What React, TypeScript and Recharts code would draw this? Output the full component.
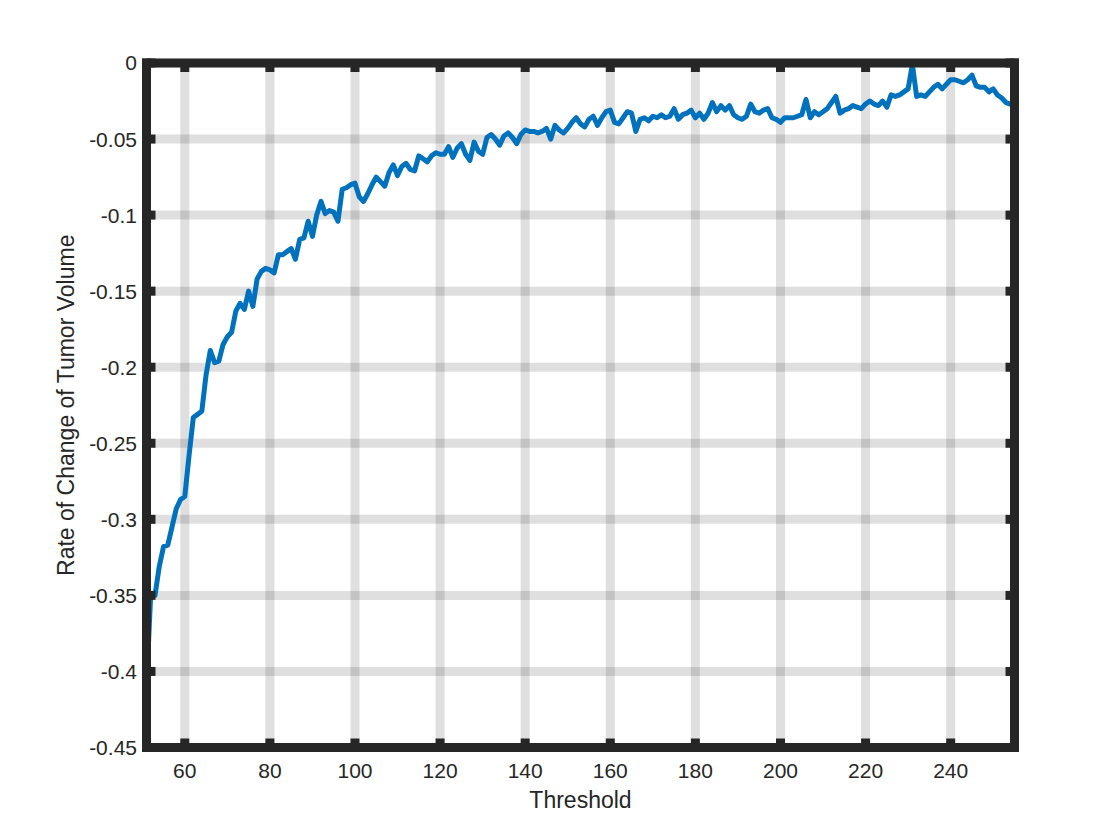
import { LineChart, Line, XAxis, YAxis, CartesianGrid } from 'recharts';

// thresholds run 51..255 in unit steps
const firstThreshold = 51;

const rateOfChange = [
  -0.41, -0.349, -0.35, -0.331, -0.318, -0.317, -0.305, -0.293, -0.287, -0.285,
  -0.258, -0.233, -0.231, -0.229, -0.205, -0.189, -0.197, -0.196, -0.185, -0.18,
  -0.177, -0.163, -0.158, -0.162, -0.15, -0.16, -0.142, -0.137, -0.135, -0.136,
  -0.138, -0.126, -0.126, -0.124, -0.122, -0.129, -0.116, -0.115, -0.104, -0.114,
  -0.1, -0.091, -0.099, -0.097, -0.098, -0.104, -0.083, -0.082, -0.08, -0.079,
  -0.088, -0.091, -0.086, -0.08, -0.075, -0.078, -0.081, -0.072, -0.067, -0.074,
  -0.068, -0.066, -0.07, -0.071, -0.061, -0.063, -0.065, -0.061, -0.059, -0.06,
  -0.06, -0.055, -0.062, -0.056, -0.053, -0.06, -0.064, -0.052, -0.058, -0.06,
  -0.049, -0.047, -0.05, -0.054, -0.048, -0.046, -0.049, -0.053, -0.047, -0.044,
  -0.045, -0.045, -0.046, -0.045, -0.043, -0.05, -0.041, -0.044, -0.046, -0.043,
  -0.039, -0.036, -0.04, -0.042, -0.037, -0.035, -0.041, -0.036, -0.032, -0.031,
  -0.039, -0.04, -0.036, -0.032, -0.033, -0.045, -0.037, -0.036, -0.038, -0.035,
  -0.036, -0.034, -0.036, -0.035, -0.03, -0.037, -0.034, -0.033, -0.031, -0.036,
  -0.033, -0.037, -0.033, -0.026, -0.032, -0.028, -0.031, -0.028, -0.034, -0.036,
  -0.037, -0.035, -0.027, -0.032, -0.033, -0.031, -0.03, -0.036, -0.037, -0.039,
  -0.036, -0.036, -0.036, -0.035, -0.034, -0.024, -0.036, -0.032, -0.034, -0.032,
  -0.03, -0.026, -0.022, -0.033, -0.031, -0.03, -0.028, -0.029, -0.03, -0.027,
  -0.025, -0.027, -0.028, -0.025, -0.029, -0.021, -0.022, -0.021, -0.019, -0.017,
  -0.001, -0.022, -0.021, -0.022, -0.019, -0.016, -0.014, -0.017, -0.014, -0.011,
  -0.011, -0.012, -0.013, -0.011, -0.008, -0.015, -0.016, -0.016, -0.019, -0.017,
  -0.021, -0.023, -0.026, -0.027, -0.028,
];

const xTicks = [60, 80, 100, 120, 140, 160, 180, 200, 220, 240];
const yTicks = [0, -0.05, -0.1, -0.15, -0.2, -0.25, -0.3, -0.35, -0.4, -0.45];

const data = rateOfChange.map((rate, i) => ({ threshold: firstThreshold + i, rate }));

const frameColor = '#262626';
const frameLine = { stroke: frameColor, strokeWidth: 9, strokeLinecap: 'square' as const };
const innerTick = { stroke: frameColor, strokeWidth: 9 };
const tickText = { fontSize: 21, fill: frameColor };
const blank = () => '';

export default function App() {
  return (
    <div style={{ position: 'absolute', left: 0, top: 0, fontFamily: '"Liberation Sans", Arial, sans-serif', background: '#fff' }}>
      <LineChart
        width={1120}
        height={840}
        data={data}
        margin={{ top: 33, right: 75.5, bottom: 22.5, left: 0 }}
      >
        <CartesianGrid
          xAxisId="b"
          yAxisId="l"
          stroke={frameColor}
          strokeOpacity={0.15}
          strokeWidth={9}
        />
        <XAxis
          xAxisId="b"
          dataKey="threshold"
          type="number"
          domain={[51, 255]}
          allowDataOverflow
          ticks={xTicks}
          interval={0}
          height={70}
          axisLine={frameLine}
          tickLine={innerTick}
          tickSize={-9}
          tickMargin={25}
          tick={tickText}
          label={{ value: 'Threshold', position: 'insideBottom', offset: 9.5, style: { fontSize: 23, fill: frameColor } }}
        />
        <XAxis
          xAxisId="t"
          orientation="top"
          dataKey="threshold"
          type="number"
          domain={[51, 255]}
          allowDataOverflow
          ticks={xTicks}
          interval={0}
          height={30}
          axisLine={frameLine}
          tickLine={innerTick}
          tickSize={-9}
          tickFormatter={blank}
        />
        <YAxis
          yAxisId="l"
          type="number"
          domain={[-0.45, 0]}
          allowDataOverflow
          ticks={yTicks}
          interval={0}
          width={146.5}
          axisLine={frameLine}
          tickLine={innerTick}
          tickSize={-9}
          tickMargin={18.5}
          tick={tickText}
          label={{
            value: 'Rate of Change of Tumor Volume',
            angle: -90,
            position: 'insideLeft',
            offset: 66,
            style: { fontSize: 23, fill: frameColor, textAnchor: 'middle' },
          }}
        />
        <YAxis
          yAxisId="r"
          orientation="right"
          type="number"
          domain={[-0.45, 0]}
          allowDataOverflow
          ticks={yTicks}
          interval={0}
          width={30}
          axisLine={frameLine}
          tickLine={innerTick}
          tickSize={-9}
          tickFormatter={blank}
        />
        <Line
          xAxisId="b"
          yAxisId="l"
          type="linear"
          dataKey="rate"
          stroke="#0072BD"
          strokeWidth={5}
          strokeLinejoin="round"
          dot={false}
          activeDot={false}
          isAnimationActive={false}
        />
      </LineChart>
    </div>
  );
}
